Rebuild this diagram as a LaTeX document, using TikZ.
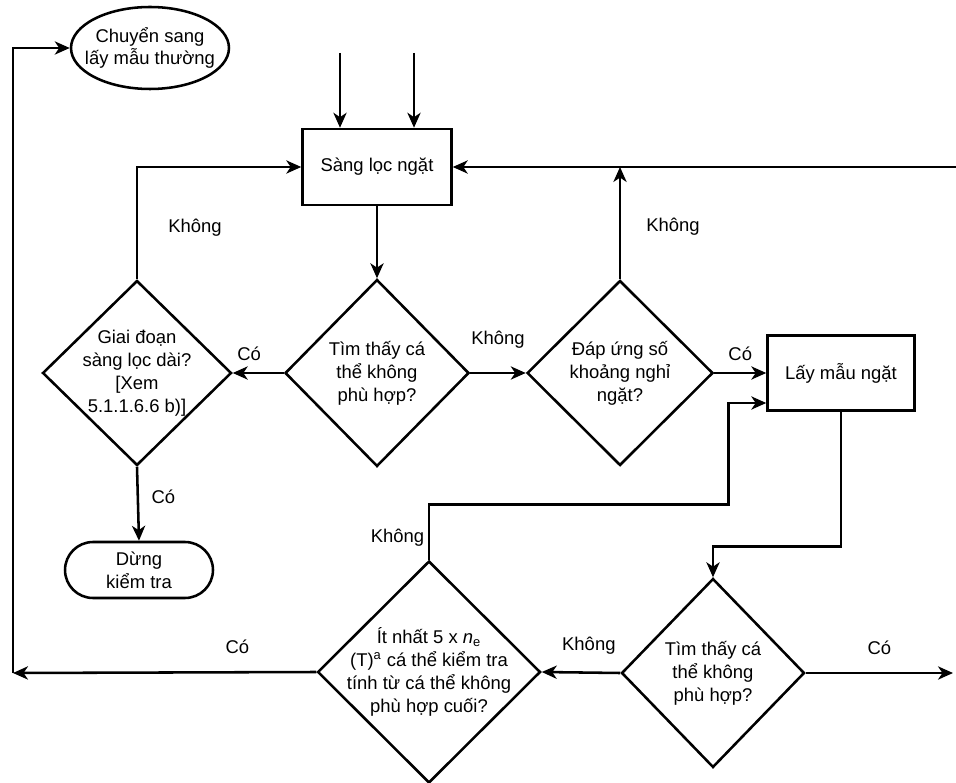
\documentclass[tikz,border=0pt]{standalone}
\usepackage{fontspec}
\setmainfont{Liberation Sans}
\usepackage{tikz}
\usetikzlibrary{positioning}
\usetikzlibrary{calc,arrows.meta}
\usetikzlibrary{shapes.geometric,shapes.misc}

\tikzset{
	flow/.style={line width=1.45pt, -{Stealth[length=8.5pt,width=7.5pt,inset=2.5pt]}},
	block/.style={draw, line width=1.45pt, rectangle, align=center, inner sep=0pt},
	decision/.style={draw, line width=1.45pt, diamond, aspect=1, inner sep=0pt},
	dtext/.style={align=center, inner sep=0pt},
	terminal/.style={draw, line width=1.45pt, ellipse, inner sep=0pt},
	stopbox/.style={draw, line width=1.45pt, rounded rectangle, align=center, inner sep=0pt},
	lbl/.style={inner sep=0pt},
}

\begin{document}
\begin{tikzpicture}[x=0.02cm, y=-0.02cm, font=\fontsize{10.5}{13}\selectfont]
	
	% ------------------------------------------------
	% Size of the graphic
	\useasboundingbox (0,0) rectangle (956,783);
	
	% ------------------------------------------------
	% Boxes
	\node[terminal, minimum width=3.16cm, minimum height=1.64cm,
		label={[dtext]center:{Chuyển sang\\lấy mẫu thường}}] (Normal) at (150,48) {};
	\node[block, minimum width=2.98cm, minimum height=1.52cm] (Screen) at (377,167) {Sàng lọc ngặt};
	\node[block, minimum width=2.94cm, minimum height=1.50cm] (Sample) at (841,373) {Lấy mẫu ngặt};
	\node[stopbox, minimum width=2.96cm, minimum height=1.12cm] (Stop) at (139,570) {Dừng\\kiểm tra};
	
	% ----------------
	% Decisions
	\node[decision, minimum width=3.78cm, minimum height=3.70cm,
		label={[dtext]center:{Giai đoạn\\sàng lọc dài?\\{[Xem}\\{5.1.1.6.6 b)]}}}] (Long) at (137,373) {};
	\node[decision, minimum width=3.68cm, minimum height=3.74cm,
		label={[dtext]center:{Tìm thấy cá\\thể không\\phù hợp?}}] (Found) at (377,373) {};
	\node[decision, minimum width=3.72cm, minimum height=3.70cm,
		label={[dtext]center:{Đáp ứng số\\khoảng nghỉ\\ngặt?}}] (Breaks) at (620,373) {};
	\node[decision, minimum width=3.66cm, minimum height=3.78cm,
		label={[dtext]center:{Tìm thấy cá\\thể không\\phù hợp?}}] (Found2) at (713,673) {};
	\node[decision, minimum width=4.46cm, minimum height=4.44cm,
		label={[dtext]center:{Ít nhất 5 x \textit{n}\textsubscript{e}\\(T)\textsuperscript{a} cá thể kiểm tra\\tính từ cá thể không\\phù hợp cuối?}}] (Count) at (429,672) {};
	
	% ------------------------------------------------
	% Relevant coordinates
	\coordinate (FeedA) at (340,53);
	\coordinate (FeedB) at (414,53);
	\coordinate (RightIn) at (956,167);
	\coordinate (RightOut) at (953,673);
	\coordinate (LeftCorner) at (13,673);
	
	\path (Found2.north) +(0,-31) coordinate (F2Top);
	\path (Count.north)  +(0,-55) coordinate (CountUp);
	\path (Sample.west)  +(0,30)  coordinate (SampleIn);
	\path (SampleIn)     +(-38,0) coordinate (SampleLow);
	
	% ------------------------------------------------
	% Connectors
	\draw[flow] (FeedA) -- (FeedA |- Screen.north);
	\draw[flow] (FeedB) -- (FeedB |- Screen.north);
	\draw[flow] (Screen.south) -- (Found.north);
	
	\draw[flow] (Found.west) -- node[lbl, pos=0.68, above=0.22cm] {Có} (Long.east);
	\draw[flow] (Long.north) |- node[lbl, pos=0.23, right=0.6cm] {Không} (Screen.west);
	\draw[flow] (Long.south) -- node[lbl, pos=0.4, right=0.25cm] {Có} (Stop.north);
	
	\draw[flow] (Found.east) -- node[lbl, above=0.46cm] {Không} (Breaks.west);
	\draw[flow] (Breaks.north) -- node[lbl, pos=0.47, right=0.5cm] {Không} (Breaks.north |- Screen.east);
	\draw[flow] (RightIn) -- (Screen.east);
	\draw[flow] (Breaks.east) -- node[lbl, above=0.22cm] {Có} (Sample.west);
	
	\draw[flow] (Sample.south) |- (F2Top) -- (Found2.north);
	\draw[flow] (Found2.east) -- node[lbl, above=0.34cm] {Có} (RightOut);
	\draw[flow] (Found2.west) -- node[lbl, pos=0.4, above=0.34cm] {Không} (Count.east);
	\draw[flow] (Count.north) -- node[lbl, pos=0.4, left=2pt] {Không} (CountUp) -| (SampleLow) -- (SampleIn);
	
	\draw[flow] (Count.west) -- node[lbl, pos=0.26, above=0.34cm] {Có} (LeftCorner);
	\draw[flow] (LeftCorner) |- (Normal.west);
	
\end{tikzpicture}
\end{document}
